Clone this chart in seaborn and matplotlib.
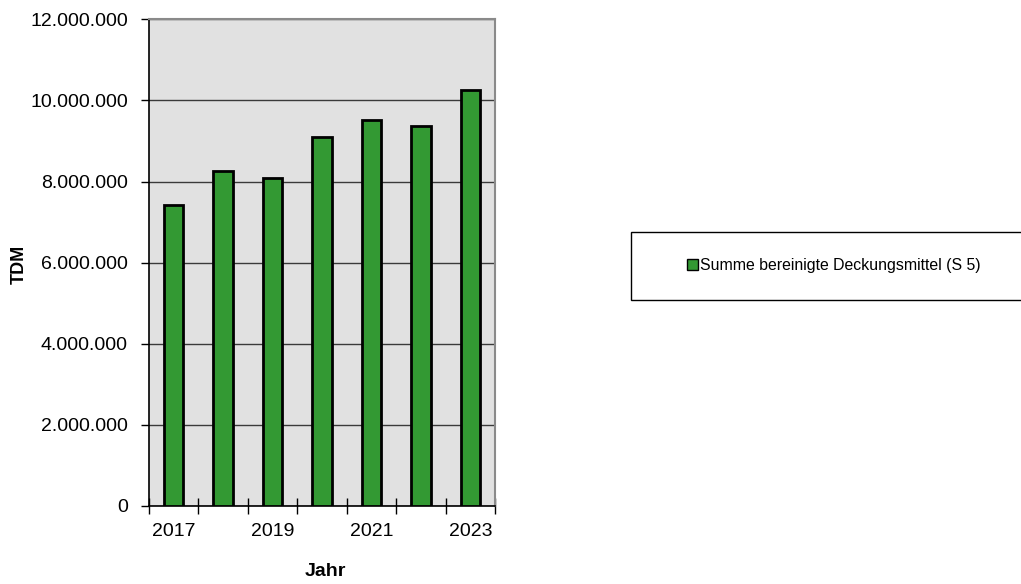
import matplotlib
matplotlib.use("Agg")
import matplotlib.pyplot as plt
from matplotlib.patches import Rectangle, Patch
import seaborn as sns
import pandas as pd

# Jahreswerte der bereinigten Deckungsmittel (in TDM)
jahre = ["2017", "2018", "2019", "2020", "2021", "2022", "2023"]
deckungsmittel = [7410000, 8260000, 8080000, 9090000, 9520000, 9370000, 10250000]
serie = "Summe bereinigte Deckungsmittel (S 5)"
y_ticks = [0, 2000000, 4000000, 6000000, 8000000, 10000000, 12000000]
x_beschriftet = ["2017", "2019", "2021", "2023"]

df = pd.DataFrame({"Jahr": jahre, "Wert": deckungsmittel})

sns.set_style("white")
plt.rcParams["font.family"] = ["Liberation Sans", "DejaVu Sans"]
plt.rcParams["text.color"] = "black"
plt.rcParams["axes.labelcolor"] = "black"
plt.rcParams["xtick.color"] = "black"
plt.rcParams["ytick.color"] = "black"

fig = plt.figure(figsize=(10.21, 5.84), dpi=100)
ax = fig.add_axes([148.7 / 1021, 1 - 506 / 584, (495.3 - 148.7) / 1021, (506 - 19.3) / 584])

gruen = "#339933"
ax.set_facecolor("#e1e1e1")
sns.barplot(data=df, x="Jahr", y="Wert", color=gruen, edgecolor="black",
            linewidth=2.0, width=0.40, saturation=1, ax=ax, zorder=3)

ax.set_ylim(0, 12000000)
ax.set_xlim(-0.5, len(jahre) - 0.5)
ax.set_yticks(y_ticks)
ax.set_yticklabels([f"{v:,}".replace(",", ".") for v in y_ticks], fontsize=14)
ax.yaxis.grid(True, color="#3a3a3a", linewidth=1.0, zorder=1)
ax.set_axisbelow(True)

# Beschriftung nur jedes zweite Jahr, Striche an den Kategoriegrenzen
pos = [jahre.index(j) for j in x_beschriftet]
ax.set_xticks(pos)
ax.set_xticklabels(x_beschriftet, fontsize=14)
ax.tick_params(axis="x", which="major", length=0, pad=12, bottom=True)
ax.set_xticks([i - 0.5 for i in range(len(jahre) + 1)], minor=True)
ax.tick_params(axis="x", which="minor", direction="inout", length=12, width=1,
               color="black", bottom=True)
ax.tick_params(axis="y", which="major", direction="out", length=6, width=1,
               color="black", left=True, pad=9)

for side in ["left", "bottom"]:
    ax.spines[side].set_color("black")
    ax.spines[side].set_linewidth(1.2)
for side in ["top", "right"]:
    ax.spines[side].set_color("#8a8a8a")
    ax.spines[side].set_linewidth(1.5)

ax.set_xlabel("Jahr", fontsize=14, fontweight="bold")
ax.set_ylabel("TDM", fontsize=13, fontweight="bold")
ax.yaxis.set_label_coords(19 / 1021, 1 - 264 / 584, transform=fig.transFigure)
ax.yaxis.label.set_verticalalignment("center")
ax.xaxis.set_label_coords(325 / 1021, 1 - 572 / 584, transform=fig.transFigure)
ax.xaxis.label.set_verticalalignment("center")

# Legendenrahmen rechts neben dem Diagramm
box = Rectangle((630.7 / 1021, 1 - 300 / 584), 420 / 1021, (300 - 231.7) / 584,
                transform=fig.transFigure, facecolor="white", edgecolor="black",
                linewidth=1.0, zorder=0)
fig.patches.append(box)
handle = Patch(facecolor=gruen, edgecolor="black", linewidth=1.0)
fig.legend([handle], [serie], loc="center", bbox_to_anchor=(834 / 1021, 1 - 266 / 584),
           frameon=False, fontsize=11.4, handlelength=0.7, handleheight=0.7,
           handletextpad=0.1, borderpad=0)

fig.savefig("out.png", dpi=100)
